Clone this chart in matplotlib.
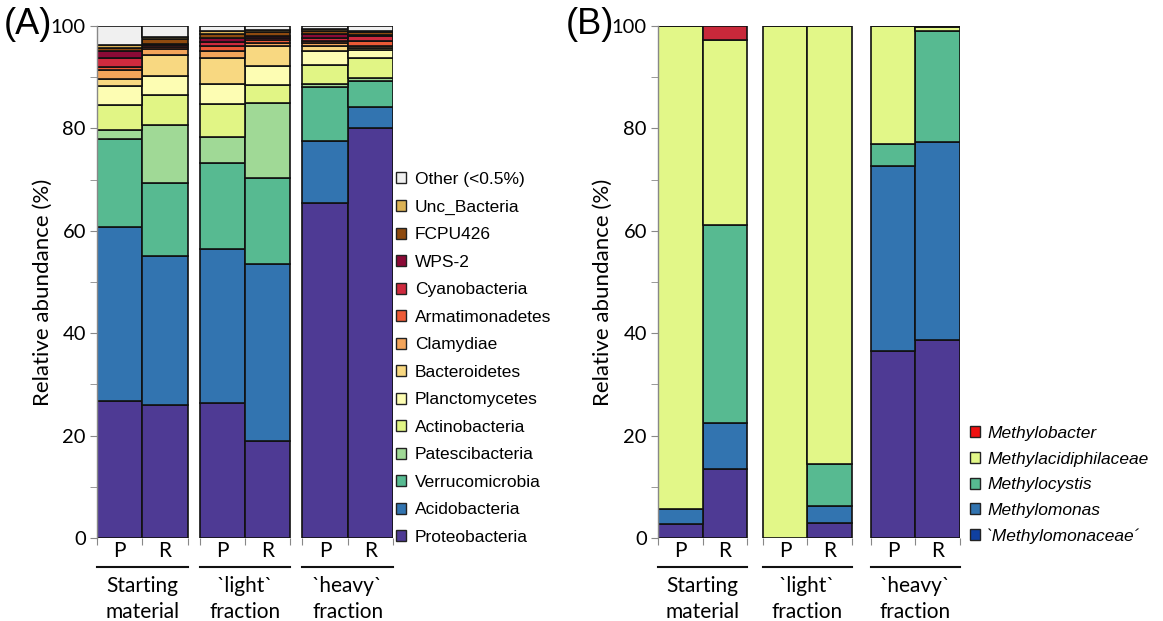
"""Stacked relative-abundance bars: phyla (A) and methanotrophs (B)."""

import matplotlib

matplotlib.use("Agg")
import matplotlib.pyplot as plt
import matplotlib.transforms as mtransforms
import numpy as np
from matplotlib.patches import Patch
from matplotlib.ticker import MultipleLocator

samples = ["P", "R", "P", "R", "P", "R"]
groups = ["Starting\nmaterial", "`light`\nfraction", "`heavy`\nfraction"]

# panel A: segment heights (%), bottom to top, samples in order above
phyla = [
    "Proteobacteria", "Acidobacteria", "Verrucomicrobia", "Patescibacteria",
    "Actinobacteria", "Planctomycetes", "Bacteroidetes", "Clamydiae",
    "Armatimonadetes", "Cyanobacteria", "WPS-2", "FCPU426", "Unc_Bacteria",
    "Other (<0.5%)",
]
proteobacteria = [26.8, 26.0, 26.3, 19.0, 65.5, 80.0]
acidobacteria = [33.9, 29.1, 30.1, 34.5, 12.1, 4.2]
verrucomicrobia = [17.3, 14.2, 16.9, 16.8, 10.4, 5.1]
patescibacteria = [1.7, 11.4, 5.1, 14.6, 0.6, 0.6]
actinobacteria = [4.9, 5.8, 6.3, 3.6, 3.8, 3.8]
planctomycetes = [3.7, 3.7, 3.9, 3.7, 2.8, 1.7]
bacteroidetes = [1.3, 4.1, 5.1, 3.8, 0.9, 0.4]
clamydiae = [1.9, 1.3, 1.5, 0.6, 0.5, 0.2]
armatimonadetes = [0.5, 0.3, 0.8, 0.7, 0.4, 1.1]
cyanobacteria = [1.8, 0.3, 0.9, 0.3, 0.6, 0.9]
wps2 = [1.4, 0.3, 0.7, 0.5, 0.8, 0.3]
fcpu426 = [0.6, 1.0, 0.8, 0.8, 0.6, 0.6]
unc_bacteria = [0.5, 0.3, 0.6, 0.4, 0.5, 0.2]
other = [3.7, 2.2, 1.0, 0.7, 0.5, 0.9]

# panel B
genera = ["`Methylomonaceae´", "Methylomonas", "Methylocystis",
          "Methylacidiphilaceae", "Methylobacter"]
methylomonaceae = [2.8, 13.5, 0.0, 3.0, 36.5, 38.7]
methylomonas = [2.8, 8.9, 0.0, 3.3, 36.2, 38.6]
methylocystis = [0.0, 38.8, 0.0, 8.2, 4.3, 21.7]
methylacidiphilaceae = [94.4, 36.1, 100.0, 85.5, 23.0, 0.8]
methylobacter = [0.0, 2.7, 0.0, 0.0, 0.0, 0.2]

phyla_colors = [
    "#4e3a94", "#3274b0", "#57ba91", "#a0d996", "#e1f585", "#fdfdb3",
    "#f8d881", "#f3a45a", "#ed5a36", "#cf2a3e", "#8b0a36", "#8e4a0f",
    "#ddb355", "#f0f0f0",
]
genera_colors = ["#4e3a94", "#3274b0", "#57ba91", "#e2f788", "#c8283a"]
genera_legend_colors = ["#1040a0", "#3274b0", "#57ba91", "#e2f788", "#ee1111"]

TICK_FONT = "Lato"
LEG_FONT = "Liberation Sans"


def bar_positions(gaps):
    """Left edges of the bars: pairs of touching bars, groups split by gaps."""
    lefts = []
    x = 0.0
    for g in range(3):
        lefts += [x, x + 1.0]
        x += 2.0 + (gaps[g] if g < len(gaps) else 0)
    return np.array(lefts)


def draw_panel(ax, series, colors, gaps):
    lefts = bar_positions(gaps)
    bottom = np.zeros(len(lefts))
    for vals, col in zip(series, colors):
        vals = np.asarray(vals)
        ax.bar(lefts, vals, width=1.0, bottom=bottom, align="edge",
               color=col, edgecolor="#111111", linewidth=1.2, zorder=2)
        bottom += vals

    ax.set_xlim(lefts[0], lefts[-1] + 1.0)
    ax.set_ylim(0, 100)
    for s in ["top", "right", "bottom"]:
        ax.spines[s].set_visible(False)
    ax.spines["left"].set_color("#888888")
    ax.spines["left"].set_linewidth(1.0)

    ax.yaxis.set_major_locator(MultipleLocator(20))
    ax.yaxis.set_minor_locator(MultipleLocator(10))
    ax.tick_params(axis="y", which="both", direction="out", length=5,
                   color="#888888", labelsize=14.5, pad=3)
    for lab in ax.get_yticklabels():
        lab.set_fontfamily(TICK_FONT)

    # bar boundary ticks below the baseline, P/R labels as minor ticks
    edges = []
    for g in range(3):
        edges += [lefts[2 * g], lefts[2 * g] + 1, lefts[2 * g] + 2]
    ax.set_xticks(edges)
    ax.set_xticklabels([])
    ax.set_xticks(lefts + 0.5, minor=True)
    ax.set_xticklabels(samples, minor=True, fontsize=15, fontfamily=TICK_FONT)
    ax.tick_params(axis="x", which="major", direction="out", length=5,
                   color="#888888")
    ax.tick_params(axis="x", which="minor", length=0, pad=2)

    ax.set_ylabel("Relative abundance (%)", fontsize=16, fontfamily=TICK_FONT)
    ax.yaxis.set_label_coords(-0.148, 0.48)

    trans = mtransforms.blended_transform_factory(ax.transData, ax.transAxes)
    for g, name in enumerate(groups):
        x0 = lefts[2 * g]
        ax.plot([x0, x0 + 2], [-0.057, -0.057], color="#111111", lw=1.5,
                transform=trans, clip_on=False)
        ax.text(x0 + 1, -0.075, name, transform=trans, ha="center", va="top",
                fontsize=15, fontfamily=TICK_FONT, linespacing=1.35)


fig = plt.figure(figsize=(11.63, 6.21), dpi=100)
W, H = 1163, 621

axA = fig.add_axes([97 / W, (H - 538) / H, 296 / W, 512 / H])
series_a = [proteobacteria, acidobacteria, verrucomicrobia, patescibacteria,
            actinobacteria, planctomycetes, bacteroidetes, clamydiae,
            armatimonadetes, cyanobacteria, wps2, fcpu426, unc_bacteria, other]
draw_panel(axA, series_a, phyla_colors, gaps=[0.27, 0.27])

axB = fig.add_axes([658 / W, (H - 538) / H, 302 / W, 512 / H])
series_b = [methylomonaceae, methylomonas, methylocystis,
            methylacidiphilaceae, methylobacter]
draw_panel(axB, series_b, genera_colors, gaps=[0.34, 0.42])

handles_a = [Patch(facecolor=c, edgecolor="#222222", linewidth=1.0, label=n)
             for n, c in zip(phyla, phyla_colors)][::-1]
fig.legend(handles=handles_a, loc="upper left",
           bbox_to_anchor=(396 / W, 1 - 172 / H), frameon=False,
           handlelength=0.6, handleheight=0.6, handletextpad=0.5,
           labelspacing=0.72, borderaxespad=0, borderpad=0,
           prop={"family": LEG_FONT, "size": 12.5})

handles_b = [Patch(facecolor=c, edgecolor="#222222", linewidth=1.0, label=n)
             for n, c in zip(genera, genera_legend_colors)][::-1]
fig.legend(handles=handles_b, loc="upper left",
           bbox_to_anchor=(970 / W, 1 - 426 / H), frameon=False,
           handlelength=0.6, handleheight=0.6, handletextpad=0.4,
           labelspacing=0.61, borderaxespad=0, borderpad=0,
           prop={"family": LEG_FONT, "size": 12.5, "style": "italic"})

fig.text(4 / W, 1 - 25 / H, "(A)", fontsize=26, fontfamily=LEG_FONT,
         ha="left", va="center")
fig.text(566 / W, 1 - 25 / H, "(B)", fontsize=26, fontfamily=LEG_FONT,
         ha="left", va="center")

fig.savefig("out.png", dpi=100)
